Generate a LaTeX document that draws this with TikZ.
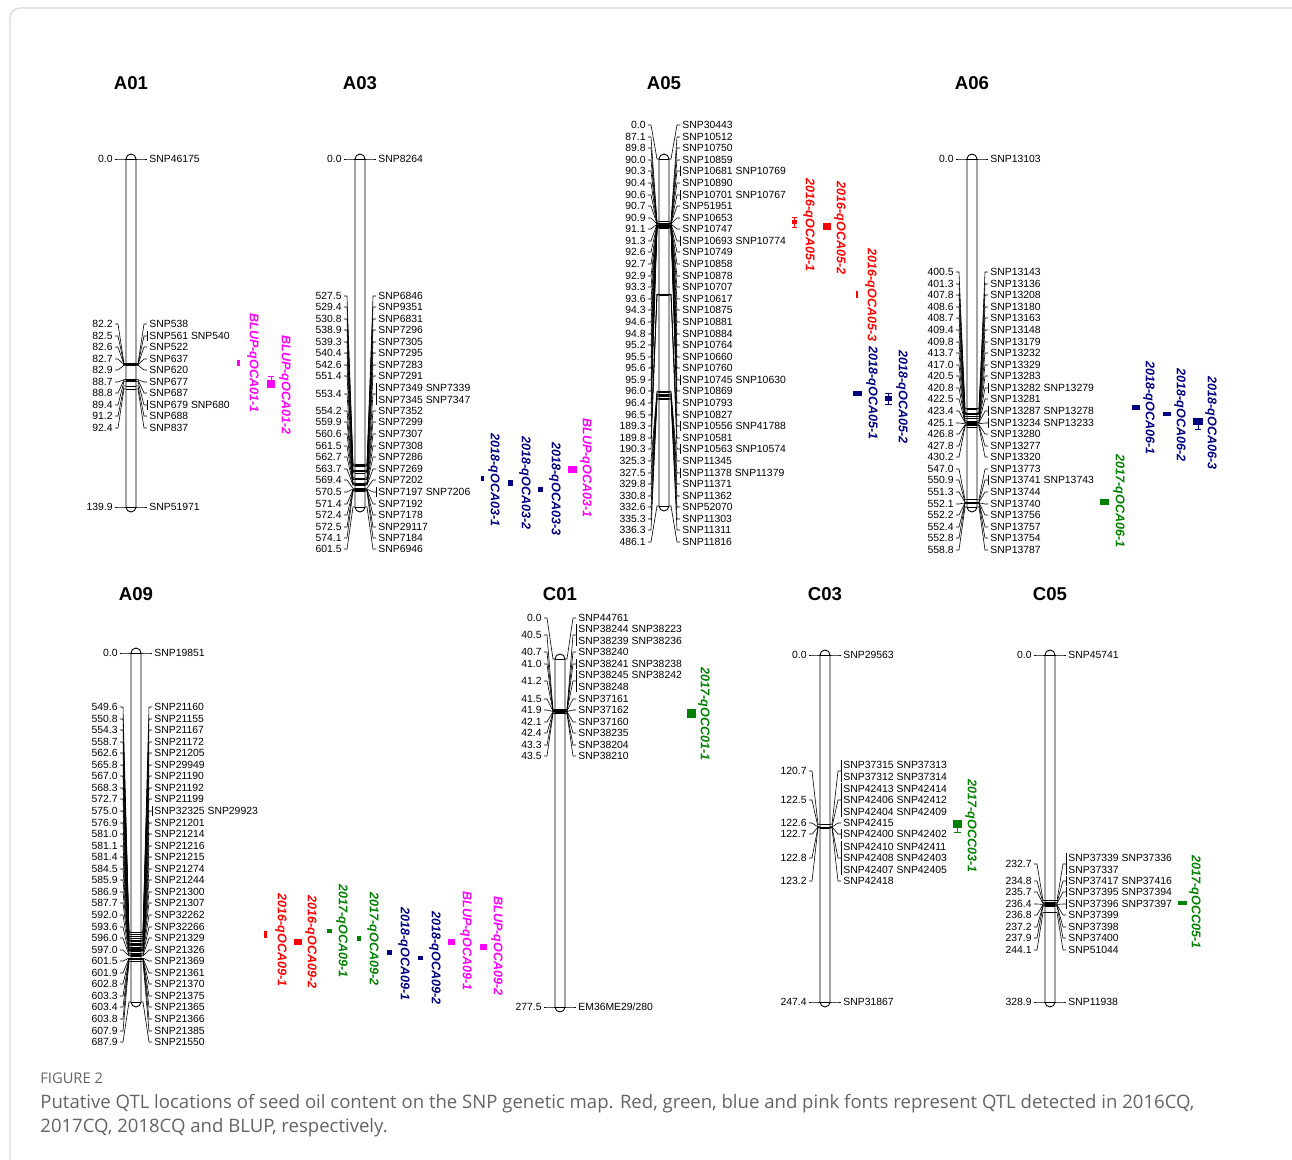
\documentclass[tikz,border=0pt]{standalone}
\usepackage{fontspec}
\newfontfamily\arialf{Liberation Sans}
\newfontfamily\capf{Open Sans}
\usetikzlibrary{calc}
\definecolor{q16}{RGB}{255,0,0}
\definecolor{q17}{RGB}{0,128,0}
\definecolor{q18}{RGB}{0,0,128}
\definecolor{qbl}{RGB}{255,0,255}
\definecolor{frameg}{RGB}{218,218,218}
\definecolor{capg}{RGB}{100,100,100}

% one linkage group: name, x, y of first and last marker, length (cM), title y, markers
\newcommand{\chrom}[7]{%
  \draw[chrbox] ({#2-5},{#3-5}) rectangle ({#2+5},{#4+5});
  \node[chrtitle] (#1) at (#2,#6) {#1};
  \foreach \cm/\ly/\br/\tx [count=\k] in {#7} {
    \coordinate (#1ml\k) at ({#2-5},{#3+(\cm/#5)*(#4-#3)});
    \coordinate (#1mr\k) at ({#2+5},{#3+(\cm/#5)*(#4-#3)});
    \draw[link] (#1ml\k) -- (#1mr\k);
    \node[cmpos, anchor=east] (#1l\k) at ({#2-16},\ly) {\cm};
    \node[snp, anchor=west] (#1r\k) at ({#2+16},\ly) {\tx};
    \draw[link] (#1l\k.east) -- ++(3,0) -- ($(#1ml\k)+(-2,0)$) -- (#1ml\k);
    \draw[link] (#1mr\k) -- ++(2,0) -- ($(#1r\k.west)+(-3,0)$) -- (#1r\k.west);
    \ifnum\br=1 \draw[link] (#1r\k.north west) -- (#1r\k.south west); \fi
  }
}

\begin{document}
\begin{tikzpicture}[
    x=0.5pt, y=-0.5pt,
    chrbox/.style = {draw, fill=white, line width=0.45pt, rounded corners=2.5pt},
    chrtitle/.style = {font=\arialf\bfseries\fontsize{9.3}{10}\selectfont, inner sep=0},
    link/.style = {line width=0.3pt},
    snp/.style = {font=\arialf\fontsize{5.2}{5.78}\selectfont, align=left, inner xsep=1pt, inner ysep=0.5pt},
    cmpos/.style = {font=\arialf\fontsize{5.2}{5.78}\selectfont, inner xsep=1pt, inner ysep=0.5pt},
    qlab/.style = {font=\arialf\bfseries\itshape\fontsize{6.3}{7}\selectfont, rotate=-90, inner sep=0},
    whisk/.style = {line width=0.4pt},
    captxt/.style = {anchor=base west, inner sep=0, text=capg, font=\capf\fontsize{9.28}{12}\selectfont}
  ]
  \useasboundingbox (0,0) rectangle (1292,1160);
  \fill[white] (0,0) rectangle (1292,1160);
  \begin{scope}
    \clip (0,0) rectangle (1292,1160);
    \draw[frameg, line width=0.6pt, rounded corners=5pt] (10,1200) -- (10,8) -- (1320,8);
  \end{scope}

  % Top row.
  \chrom{A01}{131}{159}{507}{139.9}{83}{
    0.0/159/0/SNP46175, 82.2/324/0/SNP538, 82.5/336/1/SNP561 SNP540,
    82.6/347/0/SNP522, 82.7/359/0/SNP637, 82.9/370/0/SNP620,
    88.7/382/0/SNP677, 88.8/393/0/SNP687, 89.4/405/1/SNP679 SNP680,
    91.2/416/0/SNP688, 92.4/428/0/SNP837, 139.9/507/0/SNP51971}
  \chrom{A03}{360}{159}{507}{601.5}{83}{
    0.0/159/0/SNP8264, 527.5/296/0/SNP6846, 529.4/307/0/SNP9351,
    530.8/319/0/SNP6831, 538.9/330/0/SNP7296, 539.3/342/0/SNP7305,
    540.4/353/0/SNP7295, 542.6/365/0/SNP7283, 551.4/376/0/SNP7291,
    553.4/394/1/SNP7349 SNP7339\\SNP7345 SNP7347, 554.2/411/0/SNP7352,
    559.9/422/0/SNP7299, 560.6/434/0/SNP7307, 561.5/446/0/SNP7308,
    562.7/457/0/SNP7286, 563.7/469/0/SNP7269, 569.4/480/0/SNP7202,
    570.5/492/1/SNP7197 SNP7206, 571.4/504/0/SNP7192, 572.4/515/0/SNP7178,
    572.5/527/0/SNP29117, 574.1/538/0/SNP7184, 601.5/549/0/SNP6946}
  \chrom{A05}{664}{159}{506}{486.1}{83}{
    0.0/125/0/SNP30443, 87.1/137/0/SNP10512, 89.8/148/0/SNP10750,
    90.0/160/0/SNP10859, 90.3/171/1/SNP10681 SNP10769, 90.4/183/0/SNP10890,
    90.6/195/1/SNP10701 SNP10767, 90.7/206/0/SNP51951, 90.9/218/0/SNP10653,
    91.1/229/0/SNP10747, 91.3/241/1/SNP10693 SNP10774, 92.6/252/0/SNP10749,
    92.7/264/0/SNP10858, 92.9/276/0/SNP10878, 93.3/287/0/SNP10707,
    93.6/299/0/SNP10617, 94.3/310/0/SNP10875, 94.6/322/0/SNP10881,
    94.8/334/0/SNP10884, 95.2/345/0/SNP10764, 95.5/357/0/SNP10660,
    95.6/368/0/SNP10760, 95.9/380/1/SNP10745 SNP10630, 96.0/391/0/SNP10869,
    96.4/403/0/SNP10793, 96.5/415/0/SNP10827, 189.3/426/1/SNP10556 SNP41788,
    189.8/438/0/SNP10581, 190.3/449/1/SNP10563 SNP10574, 325.3/461/0/SNP11345,
    327.5/473/1/SNP11378 SNP11379, 329.8/484/0/SNP11371, 330.8/496/0/SNP11362,
    332.6/507/0/SNP52070, 335.3/519/0/SNP11303, 336.3/530/0/SNP11311,
    486.1/542/0/SNP11816}
  \chrom{A06}{972}{159}{507}{558.8}{83}{
    0.0/159/0/SNP13103, 400.5/272/0/SNP13143, 401.3/284/0/SNP13136,
    407.8/295/0/SNP13208, 408.6/307/0/SNP13180, 408.7/318/0/SNP13163,
    409.4/330/0/SNP13148, 409.8/342/0/SNP13179, 413.7/353/0/SNP13232,
    417.0/365/0/SNP13329, 420.5/376/0/SNP13283, 420.8/388/1/SNP13282 SNP13279,
    422.5/399/0/SNP13281, 423.4/411/1/SNP13287 SNP13278,
    425.1/423/1/SNP13234 SNP13233, 426.8/434/0/SNP13280, 427.8/446/0/SNP13277,
    430.2/457/0/SNP13320, 547.0/469/0/SNP13773, 550.9/480/1/SNP13741 SNP13743,
    551.3/492/0/SNP13744, 552.1/504/0/SNP13740, 552.2/515/0/SNP13756,
    552.4/527/0/SNP13757, 552.8/538/0/SNP13754, 558.8/550/0/SNP13787}

  % Bottom row.
  \chrom{A09}{136}{653}{1002}{687.9}{594}{
    0.0/653/0/SNP19851, 549.6/707/0/SNP21160, 550.8/719/0/SNP21155,
    554.3/730/0/SNP21167, 558.7/742/0/SNP21172, 562.6/753/0/SNP21205,
    565.8/765/0/SNP29949, 567.0/776/0/SNP21190, 568.3/788/0/SNP21192,
    572.7/799/0/SNP21199, 575.0/811/1/SNP32325 SNP29923, 576.9/823/0/SNP21201,
    581.0/834/0/SNP21214, 581.1/846/0/SNP21216, 581.4/857/0/SNP21215,
    584.5/869/0/SNP21274, 585.9/880/0/SNP21244, 586.9/892/0/SNP21300,
    587.7/903/0/SNP21307, 592.0/915/0/SNP32262, 593.6/927/0/SNP32266,
    596.0/938/0/SNP21329, 597.0/950/0/SNP21326, 601.5/961/0/SNP21369,
    601.9/973/0/SNP21361, 602.8/984/0/SNP21370, 603.3/996/0/SNP21375,
    603.4/1007/0/SNP21365, 603.8/1019/0/SNP21366, 607.9/1031/0/SNP21385,
    687.9/1042/0/SNP21550}
  \chrom{C01}{560}{659}{1007}{277.5}{594}{
    0.0/618/0/SNP44761, 40.5/635/1/SNP38244 SNP38223\\SNP38239 SNP38236,
    40.7/652/0/SNP38240, 41.0/664/1/SNP38241 SNP38238,
    41.2/681/1/SNP38245 SNP38242\\SNP38248, 41.5/699/0/SNP37161,
    41.9/710/0/SNP37162, 42.1/722/0/SNP37160, 42.4/733/0/SNP38235,
    43.3/745/0/SNP38204, 43.5/756/0/SNP38210, 277.5/1007/0/{EM36ME29/280}}
  \chrom{C03}{825}{655}{1002}{247.4}{594}{
    0.0/655/0/SNP29563, 120.7/771/1/SNP37315 SNP37313\\SNP37312 SNP37314,
    122.5/800/1/SNP42413 SNP42414\\SNP42406 SNP42412\\SNP42404 SNP42409,
    122.6/823/0/SNP42415, 122.7/834/1/SNP42400 SNP42402,
    122.8/858/1/SNP42410 SNP42411\\SNP42408 SNP42403\\SNP42407 SNP42405,
    123.2/881/0/SNP42418, 247.4/1002/0/SNP31867}
  \chrom{C05}{1050}{655}{1002}{328.9}{594}{
    0.0/655/0/SNP45741, 232.7/864/1/SNP37339 SNP37336\\SNP37337,
    234.8/881/1/SNP37417 SNP37416, 235.7/892/1/SNP37395 SNP37394,
    236.4/904/1/SNP37396 SNP37397, 236.8/915/0/SNP37399, 237.2/927/0/SNP37398,
    237.9/938/0/SNP37400, 244.1/950/0/SNP51044, 328.9/1002/0/SNP11938}

  % QTL on A01 and A03.
  \fill[qbl] (237,360) rectangle (240,366);
  \node[qlab, qbl] (qA011) at (253,363) {BLUP-qOCA01-1};
  \fill[qbl] (267,380) rectangle (275,388);
  \draw[qbl, whisk] (271,376) -- (271,380) (268,376) -- (274,376);
  \node[qlab, qbl] (qA012) at (285,385) {BLUP-qOCA01-2};
  \fill[q18] (481,476) rectangle (484,481);
  \node[qlab, q18] (qA031) at (494,480) {2018-qOCA03-1};
  \fill[q18] (508,480) rectangle (513,486);
  \node[qlab, q18] (qA032) at (525,483) {2018-qOCA03-2};
  \fill[q18] (538,487) rectangle (543,492);
  \node[qlab, q18] (qA033) at (555,489) {2018-qOCA03-3};
  \fill[qbl] (568,466) rectangle (577,473);
  \node[qlab, qbl] (qA034) at (586,468) {BLUP-qOCA03-1};

  % QTL on A05 and A06.
  \fill[q16] (792,220) rectangle (797,224);
  \draw[q16, whisk] (794.5,217) -- (794.5,227) (792,217) -- (797,217) (792,227) -- (797,227);
  \node[qlab, q16] (qA051) at (809,225) {2016-qOCA05-1};
  \fill[q16] (823,223) rectangle (831,230);
  \node[qlab, q16] (qA052) at (840,228) {2016-qOCA05-2};
  \fill[q16] (856,291) rectangle (858,298);
  \node[qlab, q16] (qA053) at (871,295) {2016-qOCA05-3};
  \fill[q18] (853,391) rectangle (862,396);
  \node[qlab, q18] (qA054) at (872,393) {2018-qOCA05-1};
  \fill[q18] (885,396) rectangle (892,401);
  \draw[q18, whisk] (888.5,393) -- (888.5,404) (885,393) -- (892,393) (885,404) -- (892,404);
  \node[qlab, q18] (qA055) at (902,397) {2018-qOCA05-2};
  \fill[q18] (1132,405) rectangle (1140,410);
  \node[qlab, q18] (qA061) at (1149,408) {2018-qOCA06-1};
  \fill[q18] (1163,412) rectangle (1171,416);
  \node[qlab, q18] (qA062) at (1180,415) {2018-qOCA06-2};
  \fill[q18] (1193,418) rectangle (1203,425);
  \draw[q18, whisk] (1198,425) -- (1198,429) (1195,429) -- (1201,429);
  \node[qlab, q18] (qA063) at (1211,423) {2018-qOCA06-3};
  \fill[q17] (1100,499) rectangle (1109,505);
  \node[qlab, q17] (qA064) at (1119,501) {2017-qOCA06-1};

  % QTL on A09.
  \fill[q16] (264,931) rectangle (267,938);
  \node[qlab, q16] (qA091) at (281,940) {2016-qOCA09-1};
  \fill[q16] (294,939) rectangle (302,945);
  \node[qlab, q16] (qA092) at (311,942) {2016-qOCA09-2};
  \fill[q17] (327,929) rectangle (332,933);
  \node[qlab, q17] (qA093) at (342,931) {2017-qOCA09-1};
  \fill[q17] (357,936) rectangle (361,941);
  \node[qlab, q17] (qA094) at (373,939) {2017-qOCA09-2};
  \fill[q18] (387,950) rectangle (392,955);
  \node[qlab, q18] (qA095) at (404,954) {2018-qOCA09-1};
  \fill[q18] (418,956) rectangle (423,960);
  \node[qlab, q18] (qA096) at (435,958) {2018-qOCA09-2};
  \fill[qbl] (448,939) rectangle (455,945);
  \node[qlab, qbl] (qA097) at (466,941) {BLUP-qOCA09-1};
  \fill[qbl] (480,944) rectangle (487,950);
  \node[qlab, qbl] (qA098) at (497,946) {BLUP-qOCA09-2};

  % QTL on C01, C03 and C05.
  \fill[q17] (687,709) rectangle (696,718);
  \node[qlab, q17] (qC011) at (704,714) {2017-qOCC01-1};
  \fill[q17] (953,820) rectangle (962,828);
  \draw[q17, whisk] (957.5,828) -- (957.5,832) (954,832) -- (961,832);
  \node[qlab, q17] (qC031) at (971,826) {2017-qOCC03-1};
  \fill[q17] (1178,901) rectangle (1187,905);
  \node[qlab, q17] (qC051) at (1195,902) {2017-qOCC05-1};

  % Caption.
  \node[captxt, font=\capf\fontsize{7.35}{8}\selectfont] (fig) at (40,1083) {FIGURE 2};
  \node[captxt] (cap1) at (40,1108)
    {Putative QTL locations of seed oil content on the SNP genetic map. Red, green, blue and pink fonts represent QTL detected in 2016CQ,};
  \node[captxt] (cap2) at (40,1132) {2017CQ, 2018CQ and BLUP, respectively.};
\end{tikzpicture}
\end{document}
